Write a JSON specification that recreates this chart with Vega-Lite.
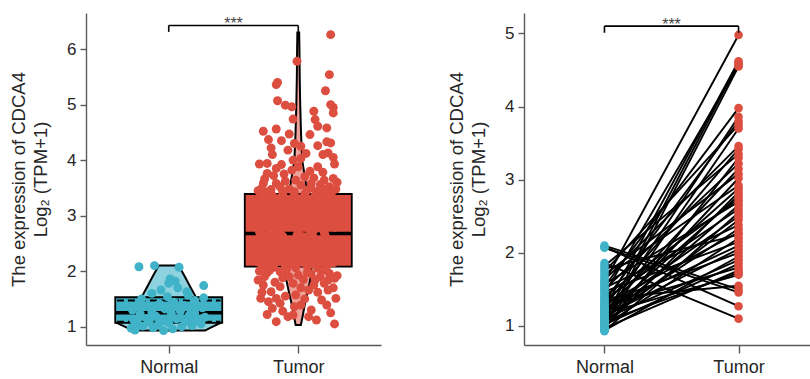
{
  "$schema": "https://vega.github.io/schema/vega-lite/v6.json",
  "padding": {"left": 9, "top": 13, "right": 0, "bottom": 0},
  "spacing": 66,
  "config": {
    "view": {"stroke": null},
    "axis": {"grid": false, "domainColor": "#5a5a5a", "domainWidth": 1.4, "tickColor": "#5a5a5a", "tickWidth": 1.4,
      "labelFont": "Liberation Sans", "titleFont": "Liberation Sans", "labelColor": "#262626", "titleColor": "#262626",
      "labelFontSize": 17, "titleFontSize": 18.5, "titleFontWeight": "normal"}
  },
  "datasets": {
    "violin": [
      {"group": "Normal", "y": 0.93, "xlo": 0.72, "xhi": 1.28},
      {"group": "Normal", "y": 1.0, "xlo": 0.66, "xhi": 1.34},
      {"group": "Normal", "y": 1.07, "xlo": 0.6, "xhi": 1.4},
      {"group": "Normal", "y": 1.1, "xlo": 0.6, "xhi": 1.4},
      {"group": "Normal", "y": 1.2, "xlo": 0.64, "xhi": 1.36},
      {"group": "Normal", "y": 1.3, "xlo": 0.69, "xhi": 1.31},
      {"group": "Normal", "y": 1.4, "xlo": 0.74, "xhi": 1.26},
      {"group": "Normal", "y": 1.53, "xlo": 0.79, "xhi": 1.21},
      {"group": "Normal", "y": 1.7, "xlo": 0.83, "xhi": 1.17},
      {"group": "Normal", "y": 1.9, "xlo": 0.875, "xhi": 1.125},
      {"group": "Normal", "y": 2.1, "xlo": 0.923, "xhi": 1.077},
      {"group": "Tumor", "y": 1.03, "xlo": 1.98, "xhi": 2.02},
      {"group": "Tumor", "y": 1.2, "xlo": 1.965, "xhi": 2.035},
      {"group": "Tumor", "y": 1.4, "xlo": 1.95, "xhi": 2.05},
      {"group": "Tumor", "y": 1.6, "xlo": 1.93, "xhi": 2.07},
      {"group": "Tumor", "y": 1.85, "xlo": 1.907, "xhi": 2.093},
      {"group": "Tumor", "y": 2.1, "xlo": 1.895, "xhi": 2.105},
      {"group": "Tumor", "y": 2.4, "xlo": 1.89, "xhi": 2.11},
      {"group": "Tumor", "y": 2.7, "xlo": 1.895, "xhi": 2.105},
      {"group": "Tumor", "y": 3.0, "xlo": 1.905, "xhi": 2.095},
      {"group": "Tumor", "y": 3.3, "xlo": 1.92, "xhi": 2.08},
      {"group": "Tumor", "y": 3.64, "xlo": 1.945, "xhi": 2.055},
      {"group": "Tumor", "y": 4.0, "xlo": 1.97, "xhi": 2.03},
      {"group": "Tumor", "y": 4.5, "xlo": 1.979, "xhi": 2.021},
      {"group": "Tumor", "y": 5.0, "xlo": 1.985, "xhi": 2.015},
      {"group": "Tumor", "y": 5.5, "xlo": 1.989, "xhi": 2.011},
      {"group": "Tumor", "y": 6.0, "xlo": 1.991, "xhi": 2.009},
      {"group": "Tumor", "y": 6.3, "xlo": 1.993, "xhi": 2.007}
    ],
    "box": [
      {"group": "Normal", "x": 1, "q1": 1.07, "q3": 1.53, "median": 1.25},
      {"group": "Tumor", "x": 2, "q1": 2.08, "q3": 3.39, "median": 2.68}
    ],
    "quart": [
      {"group": "Normal", "y": 1.09, "xlo": 0.6, "xhi": 1.4},
      {"group": "Normal", "y": 1.47, "xlo": 0.6, "xhi": 1.4}
    ],
    "pts": [
      {"group": "Normal", "x": 0.96, "y": 0.93}, {"group": "Normal", "x": 0.74, "y": 0.94}, {"group": "Normal", "x": 1.03, "y": 0.96},
      {"group": "Normal", "x": 0.71, "y": 0.97}, {"group": "Normal", "x": 0.88, "y": 0.98}, {"group": "Normal", "x": 1.10, "y": 1.00},
      {"group": "Normal", "x": 0.80, "y": 1.01}, {"group": "Normal", "x": 1.18, "y": 1.02}, {"group": "Normal", "x": 0.92, "y": 1.04},
      {"group": "Normal", "x": 1.25, "y": 1.05}, {"group": "Normal", "x": 0.76, "y": 1.06}, {"group": "Normal", "x": 1.00, "y": 1.07},
      {"group": "Normal", "x": 0.85, "y": 1.08}, {"group": "Normal", "x": 1.13, "y": 1.09}, {"group": "Normal", "x": 0.95, "y": 1.10},
      {"group": "Normal", "x": 1.22, "y": 1.11}, {"group": "Normal", "x": 0.73, "y": 1.12}, {"group": "Normal", "x": 1.06, "y": 1.14},
      {"group": "Normal", "x": 0.83, "y": 1.15}, {"group": "Normal", "x": 1.28, "y": 1.17}, {"group": "Normal", "x": 0.90, "y": 1.19},
      {"group": "Normal", "x": 1.16, "y": 1.21}, {"group": "Normal", "x": 0.78, "y": 1.23}, {"group": "Normal", "x": 1.02, "y": 1.24},
      {"group": "Normal", "x": 1.20, "y": 1.25}, {"group": "Normal", "x": 0.87, "y": 1.26}, {"group": "Normal", "x": 1.09, "y": 1.28},
      {"group": "Normal", "x": 0.72, "y": 1.30}, {"group": "Normal", "x": 0.97, "y": 1.32}, {"group": "Normal", "x": 1.26, "y": 1.34},
      {"group": "Normal", "x": 0.81, "y": 1.36}, {"group": "Normal", "x": 1.12, "y": 1.38}, {"group": "Normal", "x": 0.93, "y": 1.41},
      {"group": "Normal", "x": 1.04, "y": 1.44}, {"group": "Normal", "x": 1.20, "y": 1.47}, {"group": "Normal", "x": 0.79, "y": 1.50},
      {"group": "Normal", "x": 1.27, "y": 1.52}, {"group": "Normal", "x": 0.99, "y": 1.54}, {"group": "Normal", "x": 1.15, "y": 1.57},
      {"group": "Normal", "x": 0.87, "y": 1.60}, {"group": "Normal", "x": 1.14, "y": 1.63}, {"group": "Normal", "x": 0.94, "y": 1.66},
      {"group": "Normal", "x": 1.07, "y": 1.70}, {"group": "Normal", "x": 1.27, "y": 1.74}, {"group": "Normal", "x": 1.00, "y": 1.78},
      {"group": "Normal", "x": 1.05, "y": 1.82}, {"group": "Normal", "x": 1.01, "y": 1.86}, {"group": "Normal", "x": 1.08, "y": 2.07},
      {"group": "Normal", "x": 0.77, "y": 2.08}, {"group": "Normal", "x": 0.89, "y": 2.10},
      {"group": "Tumor", "x": 2.25, "y": 6.26}, {"group": "Tumor", "x": 1.99, "y": 5.78}, {"group": "Tumor", "x": 1.84, "y": 5.40},
      {"group": "Tumor", "x": 1.83, "y": 5.36}, {"group": "Tumor", "x": 2.24, "y": 5.54}, {"group": "Tumor", "x": 2.21, "y": 5.25},
      {"group": "Tumor", "x": 1.84, "y": 5.07}, {"group": "Tumor", "x": 1.90, "y": 4.99}, {"group": "Tumor", "x": 1.95, "y": 4.96},
      {"group": "Tumor", "x": 2.25, "y": 5.00}, {"group": "Tumor", "x": 2.27, "y": 4.95}, {"group": "Tumor", "x": 2.27, "y": 4.85},
      {"group": "Tumor", "x": 2.12, "y": 4.88}, {"group": "Tumor", "x": 2.13, "y": 4.73}, {"group": "Tumor", "x": 2.15, "y": 4.61},
      {"group": "Tumor", "x": 1.96, "y": 4.74}, {"group": "Tumor", "x": 1.73, "y": 4.52}, {"group": "Tumor", "x": 1.83, "y": 4.56},
      {"group": "Tumor", "x": 1.77, "y": 4.37}, {"group": "Tumor", "x": 1.87, "y": 4.35}, {"group": "Tumor", "x": 1.93, "y": 4.47},
      {"group": "Tumor", "x": 1.97, "y": 4.30}, {"group": "Tumor", "x": 2.22, "y": 4.58}, {"group": "Tumor", "x": 2.09, "y": 4.46},
      {"group": "Tumor", "x": 2.15, "y": 4.26}, {"group": "Tumor", "x": 2.22, "y": 4.33}, {"group": "Tumor", "x": 2.25, "y": 4.31},
      {"group": "Tumor", "x": 1.79, "y": 4.22}, {"group": "Tumor", "x": 1.80, "y": 4.10}, {"group": "Tumor", "x": 2.23, "y": 4.13},
      {"group": "Tumor", "x": 2.19, "y": 4.10}, {"group": "Tumor", "x": 2.28, "y": 3.93}, {"group": "Tumor", "x": 1.70, "y": 3.93},
      {"group": "Tumor", "x": 1.76, "y": 3.94}, {"group": "Tumor", "x": 1.76, "y": 3.76}, {"group": "Tumor", "x": 1.83, "y": 3.85},
      {"group": "Tumor", "x": 1.89, "y": 3.75}, {"group": "Tumor", "x": 1.96, "y": 4.00}, {"group": "Tumor", "x": 2.00, "y": 3.88},
      {"group": "Tumor", "x": 2.02, "y": 4.03}, {"group": "Tumor", "x": 2.09, "y": 3.80}, {"group": "Tumor", "x": 2.15, "y": 3.88},
      {"group": "Tumor", "x": 2.20, "y": 3.64}, {"group": "Tumor", "x": 2.27, "y": 3.67}, {"group": "Tumor", "x": 1.73, "y": 3.58},
      {"group": "Tumor", "x": 1.83, "y": 3.58}, {"group": "Tumor", "x": 1.98, "y": 3.64}, {"group": "Tumor", "x": 2.10, "y": 3.58},
      {"group": "Tumor", "x": 1.69, "y": 3.45}, {"group": "Tumor", "x": 1.72, "y": 3.50}, {"group": "Tumor", "x": 1.76, "y": 3.42},
      {"group": "Tumor", "x": 1.79, "y": 3.47}, {"group": "Tumor", "x": 1.81, "y": 3.72}, {"group": "Tumor", "x": 1.86, "y": 3.52},
      {"group": "Tumor", "x": 1.88, "y": 3.44}, {"group": "Tumor", "x": 1.90, "y": 3.62}, {"group": "Tumor", "x": 1.93, "y": 3.48},
      {"group": "Tumor", "x": 1.95, "y": 3.82}, {"group": "Tumor", "x": 1.97, "y": 3.43}, {"group": "Tumor", "x": 2.02, "y": 3.55},
      {"group": "Tumor", "x": 2.05, "y": 3.70}, {"group": "Tumor", "x": 2.07, "y": 3.46}, {"group": "Tumor", "x": 2.10, "y": 3.50},
      {"group": "Tumor", "x": 2.12, "y": 3.68}, {"group": "Tumor", "x": 2.15, "y": 3.44}, {"group": "Tumor", "x": 2.17, "y": 3.56},
      {"group": "Tumor", "x": 2.19, "y": 3.78}, {"group": "Tumor", "x": 2.21, "y": 3.47}, {"group": "Tumor", "x": 2.24, "y": 3.52},
      {"group": "Tumor", "x": 2.26, "y": 3.43}, {"group": "Tumor", "x": 2.29, "y": 3.48}, {"group": "Tumor", "x": 2.30, "y": 3.60},
      {"group": "Tumor", "x": 1.74, "y": 3.66}, {"group": "Tumor", "x": 1.87, "y": 3.92}, {"group": "Tumor", "x": 2.06, "y": 4.12},
      {"group": "Tumor", "x": 1.92, "y": 4.18}, {"group": "Tumor", "x": 2.27, "y": 4.05}, {"group": "Tumor", "x": 2.02, "y": 4.25},
      {"group": "Tumor", "x": 1.72, "y": 3.38}, {"group": "Tumor", "x": 1.80, "y": 3.36}, {"group": "Tumor", "x": 1.88, "y": 3.40},
      {"group": "Tumor", "x": 1.97, "y": 3.37}, {"group": "Tumor", "x": 2.05, "y": 3.39}, {"group": "Tumor", "x": 2.13, "y": 3.36},
      {"group": "Tumor", "x": 2.21, "y": 3.40},
      {"group": "Tumor", "x": 1.69, "y": 3.30}, {"group": "Tumor", "x": 1.76, "y": 3.28}, {"group": "Tumor", "x": 1.85, "y": 3.31},
      {"group": "Tumor", "x": 1.93, "y": 3.27}, {"group": "Tumor", "x": 2.01, "y": 3.30}, {"group": "Tumor", "x": 2.09, "y": 3.29},
      {"group": "Tumor", "x": 2.17, "y": 3.32}, {"group": "Tumor", "x": 2.26, "y": 3.28},
      {"group": "Tumor", "x": 1.73, "y": 3.21}, {"group": "Tumor", "x": 1.82, "y": 3.18}, {"group": "Tumor", "x": 1.90, "y": 3.22},
      {"group": "Tumor", "x": 1.99, "y": 3.19}, {"group": "Tumor", "x": 2.07, "y": 3.20}, {"group": "Tumor", "x": 2.15, "y": 3.17},
      {"group": "Tumor", "x": 2.24, "y": 3.22}, {"group": "Tumor", "x": 2.29, "y": 3.15},
      {"group": "Tumor", "x": 1.70, "y": 3.10}, {"group": "Tumor", "x": 1.78, "y": 3.08}, {"group": "Tumor", "x": 1.87, "y": 3.12},
      {"group": "Tumor", "x": 1.95, "y": 3.09}, {"group": "Tumor", "x": 2.03, "y": 3.11}, {"group": "Tumor", "x": 2.11, "y": 3.07},
      {"group": "Tumor", "x": 2.20, "y": 3.10}, {"group": "Tumor", "x": 2.28, "y": 3.05},
      {"group": "Tumor", "x": 1.74, "y": 3.00}, {"group": "Tumor", "x": 1.83, "y": 2.98}, {"group": "Tumor", "x": 1.91, "y": 3.02},
      {"group": "Tumor", "x": 2.00, "y": 2.97}, {"group": "Tumor", "x": 2.08, "y": 3.01}, {"group": "Tumor", "x": 2.16, "y": 2.99},
      {"group": "Tumor", "x": 2.25, "y": 2.96},
      {"group": "Tumor", "x": 1.69, "y": 2.90}, {"group": "Tumor", "x": 1.77, "y": 2.88}, {"group": "Tumor", "x": 1.86, "y": 2.92},
      {"group": "Tumor", "x": 1.94, "y": 2.87}, {"group": "Tumor", "x": 2.02, "y": 2.91}, {"group": "Tumor", "x": 2.10, "y": 2.89},
      {"group": "Tumor", "x": 2.19, "y": 2.92}, {"group": "Tumor", "x": 2.27, "y": 2.86},
      {"group": "Tumor", "x": 1.72, "y": 2.80}, {"group": "Tumor", "x": 1.81, "y": 2.78}, {"group": "Tumor", "x": 1.89, "y": 2.82},
      {"group": "Tumor", "x": 1.98, "y": 2.79}, {"group": "Tumor", "x": 2.06, "y": 2.81}, {"group": "Tumor", "x": 2.14, "y": 2.77},
      {"group": "Tumor", "x": 2.23, "y": 2.80}, {"group": "Tumor", "x": 2.28, "y": 2.79},
      {"group": "Tumor", "x": 1.70, "y": 2.71}, {"group": "Tumor", "x": 1.78, "y": 2.70}, {"group": "Tumor", "x": 1.86, "y": 2.73},
      {"group": "Tumor", "x": 2.00, "y": 2.69}, {"group": "Tumor", "x": 2.09, "y": 2.72}, {"group": "Tumor", "x": 2.20, "y": 2.70},
      {"group": "Tumor", "x": 1.73, "y": 2.64}, {"group": "Tumor", "x": 1.82, "y": 2.66}, {"group": "Tumor", "x": 1.88, "y": 2.63},
      {"group": "Tumor", "x": 1.99, "y": 2.65}, {"group": "Tumor", "x": 2.04, "y": 2.62}, {"group": "Tumor", "x": 2.11, "y": 2.66},
      {"group": "Tumor", "x": 2.21, "y": 2.63},
      {"group": "Tumor", "x": 1.69, "y": 2.57}, {"group": "Tumor", "x": 1.77, "y": 2.55}, {"group": "Tumor", "x": 1.85, "y": 2.58},
      {"group": "Tumor", "x": 1.93, "y": 2.54}, {"group": "Tumor", "x": 2.02, "y": 2.56}, {"group": "Tumor", "x": 2.10, "y": 2.53},
      {"group": "Tumor", "x": 2.19, "y": 2.57}, {"group": "Tumor", "x": 2.28, "y": 2.55},
      {"group": "Tumor", "x": 1.72, "y": 2.47}, {"group": "Tumor", "x": 1.80, "y": 2.45}, {"group": "Tumor", "x": 1.89, "y": 2.48},
      {"group": "Tumor", "x": 1.97, "y": 2.44}, {"group": "Tumor", "x": 2.06, "y": 2.46}, {"group": "Tumor", "x": 2.14, "y": 2.43},
      {"group": "Tumor", "x": 2.23, "y": 2.47},
      {"group": "Tumor", "x": 1.70, "y": 2.37}, {"group": "Tumor", "x": 1.78, "y": 2.35}, {"group": "Tumor", "x": 1.87, "y": 2.38},
      {"group": "Tumor", "x": 1.95, "y": 2.34}, {"group": "Tumor", "x": 2.03, "y": 2.36}, {"group": "Tumor", "x": 2.12, "y": 2.33},
      {"group": "Tumor", "x": 2.20, "y": 2.37}, {"group": "Tumor", "x": 2.29, "y": 2.35},
      {"group": "Tumor", "x": 1.74, "y": 2.27}, {"group": "Tumor", "x": 1.83, "y": 2.25}, {"group": "Tumor", "x": 1.91, "y": 2.28},
      {"group": "Tumor", "x": 2.00, "y": 2.24}, {"group": "Tumor", "x": 2.08, "y": 2.26}, {"group": "Tumor", "x": 2.16, "y": 2.23},
      {"group": "Tumor", "x": 2.25, "y": 2.27},
      {"group": "Tumor", "x": 1.69, "y": 2.17}, {"group": "Tumor", "x": 1.77, "y": 2.15}, {"group": "Tumor", "x": 1.86, "y": 2.18},
      {"group": "Tumor", "x": 1.94, "y": 2.14}, {"group": "Tumor", "x": 2.02, "y": 2.16}, {"group": "Tumor", "x": 2.11, "y": 2.13},
      {"group": "Tumor", "x": 2.19, "y": 2.17}, {"group": "Tumor", "x": 2.27, "y": 2.15},
      {"group": "Tumor", "x": 1.72, "y": 2.09}, {"group": "Tumor", "x": 1.81, "y": 2.07}, {"group": "Tumor", "x": 1.90, "y": 2.10},
      {"group": "Tumor", "x": 1.98, "y": 2.06}, {"group": "Tumor", "x": 2.07, "y": 2.08}, {"group": "Tumor", "x": 2.15, "y": 2.05},
      {"group": "Tumor", "x": 2.22, "y": 2.09},
      {"group": "Tumor", "x": 1.69, "y": 1.84}, {"group": "Tumor", "x": 1.73, "y": 1.75}, {"group": "Tumor", "x": 1.71, "y": 1.51},
      {"group": "Tumor", "x": 1.79, "y": 1.63}, {"group": "Tumor", "x": 1.83, "y": 1.51}, {"group": "Tumor", "x": 1.80, "y": 1.33},
      {"group": "Tumor", "x": 1.83, "y": 1.09}, {"group": "Tumor", "x": 1.92, "y": 1.18}, {"group": "Tumor", "x": 1.97, "y": 1.36},
      {"group": "Tumor", "x": 1.98, "y": 1.57}, {"group": "Tumor", "x": 2.02, "y": 1.39}, {"group": "Tumor", "x": 2.08, "y": 1.18},
      {"group": "Tumor", "x": 2.08, "y": 1.66}, {"group": "Tumor", "x": 2.13, "y": 1.84}, {"group": "Tumor", "x": 2.17, "y": 1.90},
      {"group": "Tumor", "x": 2.23, "y": 1.84}, {"group": "Tumor", "x": 2.28, "y": 1.87}, {"group": "Tumor", "x": 2.23, "y": 1.66},
      {"group": "Tumor", "x": 2.29, "y": 1.51}, {"group": "Tumor", "x": 2.22, "y": 1.39}, {"group": "Tumor", "x": 2.28, "y": 1.05},
      {"group": "Tumor", "x": 1.86, "y": 1.99}, {"group": "Tumor", "x": 1.93, "y": 1.90}, {"group": "Tumor", "x": 2.00, "y": 1.93},
      {"group": "Tumor", "x": 2.07, "y": 1.98}, {"group": "Tumor", "x": 1.76, "y": 1.97},
      {"group": "Tumor", "x": 1.70, "y": 2.00}, {"group": "Tumor", "x": 1.74, "y": 1.90}, {"group": "Tumor", "x": 1.78, "y": 2.02},
      {"group": "Tumor", "x": 1.82, "y": 1.80}, {"group": "Tumor", "x": 1.86, "y": 1.72}, {"group": "Tumor", "x": 1.88, "y": 1.88},
      {"group": "Tumor", "x": 1.91, "y": 2.03}, {"group": "Tumor", "x": 1.96, "y": 1.78}, {"group": "Tumor", "x": 2.02, "y": 1.70},
      {"group": "Tumor", "x": 2.04, "y": 1.85}, {"group": "Tumor", "x": 2.10, "y": 1.95}, {"group": "Tumor", "x": 2.12, "y": 1.75},
      {"group": "Tumor", "x": 2.15, "y": 1.62}, {"group": "Tumor", "x": 2.18, "y": 2.00}, {"group": "Tumor", "x": 2.20, "y": 1.78},
      {"group": "Tumor", "x": 2.24, "y": 1.96}, {"group": "Tumor", "x": 2.27, "y": 1.70}, {"group": "Tumor", "x": 2.30, "y": 1.92},
      {"group": "Tumor", "x": 1.72, "y": 1.62}, {"group": "Tumor", "x": 1.77, "y": 1.45}, {"group": "Tumor", "x": 1.86, "y": 1.42},
      {"group": "Tumor", "x": 1.90, "y": 1.55}, {"group": "Tumor", "x": 2.05, "y": 1.50}, {"group": "Tumor", "x": 2.10, "y": 1.30},
      {"group": "Tumor", "x": 2.18, "y": 1.48}, {"group": "Tumor", "x": 2.25, "y": 1.25}, {"group": "Tumor", "x": 1.76, "y": 1.22},
      {"group": "Tumor", "x": 1.96, "y": 1.21}, {"group": "Tumor", "x": 1.88, "y": 1.28}, {"group": "Tumor", "x": 2.14, "y": 1.12}
    ],
    "bracket1": [
      {"x": 1, "x2": 2, "y": 6.425, "y2": 6.425},
      {"x": 1, "x2": 1, "y": 6.425, "y2": 6.31},
      {"x": 2, "x2": 2, "y": 6.425, "y2": 6.31}
    ],
    "sig1": [{"x": 1.5, "y": 6.425, "label": "***"}],
    "bracket2": [
      {"x": 1, "x2": 2, "y": 5.10, "y2": 5.10},
      {"x": 1, "x2": 1, "y": 5.10, "y2": 5.01},
      {"x": 2, "x2": 2, "y": 5.10, "y2": 5.01}
    ],
    "sig2": [{"x": 1.5, "y": 5.10, "label": "***"}],
    "pairs": [
      {"id": 1, "group": "Normal", "x": 1, "y": 0.93}, {"id": 1, "group": "Tumor", "x": 2, "y": 2.55},
      {"id": 2, "group": "Normal", "x": 1, "y": 0.94}, {"id": 2, "group": "Tumor", "x": 2, "y": 1.95},
      {"id": 3, "group": "Normal", "x": 1, "y": 0.96}, {"id": 3, "group": "Tumor", "x": 2, "y": 3.30},
      {"id": 4, "group": "Normal", "x": 1, "y": 0.97}, {"id": 4, "group": "Tumor", "x": 2, "y": 1.76},
      {"id": 5, "group": "Normal", "x": 1, "y": 0.98}, {"id": 5, "group": "Tumor", "x": 2, "y": 2.83},
      {"id": 6, "group": "Normal", "x": 1, "y": 1.00}, {"id": 6, "group": "Tumor", "x": 2, "y": 4.55},
      {"id": 7, "group": "Normal", "x": 1, "y": 1.01}, {"id": 7, "group": "Tumor", "x": 2, "y": 2.20},
      {"id": 8, "group": "Normal", "x": 1, "y": 1.02}, {"id": 8, "group": "Tumor", "x": 2, "y": 1.85},
      {"id": 9, "group": "Normal", "x": 1, "y": 1.04}, {"id": 9, "group": "Tumor", "x": 2, "y": 3.70},
      {"id": 10, "group": "Normal", "x": 1, "y": 1.05}, {"id": 10, "group": "Tumor", "x": 2, "y": 2.45},
      {"id": 11, "group": "Normal", "x": 1, "y": 1.06}, {"id": 11, "group": "Tumor", "x": 2, "y": 1.73},
      {"id": 12, "group": "Normal", "x": 1, "y": 1.07}, {"id": 12, "group": "Tumor", "x": 2, "y": 3.02},
      {"id": 13, "group": "Normal", "x": 1, "y": 1.08}, {"id": 13, "group": "Tumor", "x": 2, "y": 2.65},
      {"id": 14, "group": "Normal", "x": 1, "y": 1.09}, {"id": 14, "group": "Tumor", "x": 2, "y": 4.60},
      {"id": 15, "group": "Normal", "x": 1, "y": 1.10}, {"id": 15, "group": "Tumor", "x": 2, "y": 1.90},
      {"id": 16, "group": "Normal", "x": 1, "y": 1.11}, {"id": 16, "group": "Tumor", "x": 2, "y": 2.33},
      {"id": 17, "group": "Normal", "x": 1, "y": 1.12}, {"id": 17, "group": "Tumor", "x": 2, "y": 3.86},
      {"id": 18, "group": "Normal", "x": 1, "y": 1.14}, {"id": 18, "group": "Tumor", "x": 2, "y": 2.05},
      {"id": 19, "group": "Normal", "x": 1, "y": 1.15}, {"id": 19, "group": "Tumor", "x": 2, "y": 2.78},
      {"id": 20, "group": "Normal", "x": 1, "y": 1.17}, {"id": 20, "group": "Tumor", "x": 2, "y": 1.70},
      {"id": 21, "group": "Normal", "x": 1, "y": 1.19}, {"id": 21, "group": "Tumor", "x": 2, "y": 3.15},
      {"id": 22, "group": "Normal", "x": 1, "y": 1.21}, {"id": 22, "group": "Tumor", "x": 2, "y": 2.50},
      {"id": 23, "group": "Normal", "x": 1, "y": 1.23}, {"id": 23, "group": "Tumor", "x": 2, "y": 4.62},
      {"id": 24, "group": "Normal", "x": 1, "y": 1.24}, {"id": 24, "group": "Tumor", "x": 2, "y": 2.10},
      {"id": 25, "group": "Normal", "x": 1, "y": 1.25}, {"id": 25, "group": "Tumor", "x": 2, "y": 2.88},
      {"id": 26, "group": "Normal", "x": 1, "y": 1.26}, {"id": 26, "group": "Tumor", "x": 2, "y": 1.80},
      {"id": 27, "group": "Normal", "x": 1, "y": 1.28}, {"id": 27, "group": "Tumor", "x": 2, "y": 3.42},
      {"id": 28, "group": "Normal", "x": 1, "y": 1.30}, {"id": 28, "group": "Tumor", "x": 2, "y": 2.28},
      {"id": 29, "group": "Normal", "x": 1, "y": 1.32}, {"id": 29, "group": "Tumor", "x": 2, "y": 2.00},
      {"id": 30, "group": "Normal", "x": 1, "y": 1.34}, {"id": 30, "group": "Tumor", "x": 2, "y": 3.80},
      {"id": 31, "group": "Normal", "x": 1, "y": 1.36}, {"id": 31, "group": "Tumor", "x": 2, "y": 2.60},
      {"id": 32, "group": "Normal", "x": 1, "y": 1.38}, {"id": 32, "group": "Tumor", "x": 2, "y": 1.55},
      {"id": 33, "group": "Normal", "x": 1, "y": 1.41}, {"id": 33, "group": "Tumor", "x": 2, "y": 2.74},
      {"id": 34, "group": "Normal", "x": 1, "y": 1.44}, {"id": 34, "group": "Tumor", "x": 2, "y": 4.57},
      {"id": 35, "group": "Normal", "x": 1, "y": 1.47}, {"id": 35, "group": "Tumor", "x": 2, "y": 2.15},
      {"id": 36, "group": "Normal", "x": 1, "y": 1.50}, {"id": 36, "group": "Tumor", "x": 2, "y": 3.22},
      {"id": 37, "group": "Normal", "x": 1, "y": 1.52}, {"id": 37, "group": "Tumor", "x": 2, "y": 2.38},
      {"id": 38, "group": "Normal", "x": 1, "y": 1.54}, {"id": 38, "group": "Tumor", "x": 2, "y": 3.98},
      {"id": 39, "group": "Normal", "x": 1, "y": 1.57}, {"id": 39, "group": "Tumor", "x": 2, "y": 2.70},
      {"id": 40, "group": "Normal", "x": 1, "y": 1.60}, {"id": 40, "group": "Tumor", "x": 2, "y": 4.98},
      {"id": 41, "group": "Normal", "x": 1, "y": 1.63}, {"id": 41, "group": "Tumor", "x": 2, "y": 3.46},
      {"id": 42, "group": "Normal", "x": 1, "y": 1.66}, {"id": 42, "group": "Tumor", "x": 2, "y": 2.92},
      {"id": 43, "group": "Normal", "x": 1, "y": 1.70}, {"id": 43, "group": "Tumor", "x": 2, "y": 3.08},
      {"id": 44, "group": "Normal", "x": 1, "y": 1.74}, {"id": 44, "group": "Tumor", "x": 2, "y": 3.75},
      {"id": 45, "group": "Normal", "x": 1, "y": 1.78}, {"id": 45, "group": "Tumor", "x": 2, "y": 2.25},
      {"id": 46, "group": "Normal", "x": 1, "y": 1.82}, {"id": 46, "group": "Tumor", "x": 2, "y": 3.35},
      {"id": 47, "group": "Normal", "x": 1, "y": 1.86}, {"id": 47, "group": "Tumor", "x": 2, "y": 1.10},
      {"id": 48, "group": "Normal", "x": 1, "y": 2.07}, {"id": 48, "group": "Tumor", "x": 2, "y": 1.46},
      {"id": 49, "group": "Normal", "x": 1, "y": 2.08}, {"id": 49, "group": "Tumor", "x": 2, "y": 1.27},
      {"id": 50, "group": "Normal", "x": 1, "y": 2.10}, {"id": 50, "group": "Tumor", "x": 2, "y": 1.50}
    ]
  },
  "hconcat": [
    {
      "width": 295,
      "height": 332,
      "layer": [
        {
          "data": {"name": "violin"},
          "mark": {"type": "area", "orient": "horizontal", "stroke": "black", "strokeWidth": 2},
          "encoding": {
            "y": {"field": "y", "type": "quantitative", "scale": {"domain": [0.67, 6.65], "nice": false, "zero": false},
              "axis": {"values": [1, 2, 3, 4, 5, 6], "format": "d", "tickSize": 6, "labelPadding": 4, "titlePadding": 16, "titleLineHeight": 22,
                "title": ["The expression of CDCA4", "Log₂ (TPM+1)"]}},
            "x": {"field": "xlo", "type": "quantitative", "scale": {"domain": [0.4, 2.6], "nice": false, "zero": false},
              "axis": {"values": [1, 2], "labelExpr": "datum.value == 1 ? 'Normal' : 'Tumor'", "title": null, "tickSize": 8, "labelPadding": 5, "labelFontSize": 18}},
            "x2": {"field": "xhi"},
            "fill": {"field": "group", "type": "nominal", "scale": {"domain": ["Normal", "Tumor"], "range": ["#8fd2df", "#eea39c"]}, "legend": null}
          }
        },
        {
          "data": {"name": "box"},
          "mark": {"type": "bar", "size": 107, "stroke": "black", "strokeWidth": 1.8},
          "encoding": {
            "x": {"field": "x", "type": "quantitative"},
            "y": {"field": "q1", "type": "quantitative"},
            "y2": {"field": "q3"},
            "fill": {"field": "group", "type": "nominal", "scale": {"domain": ["Normal", "Tumor"], "range": ["#41b3c8", "#dc4f40"]}, "legend": null}
          }
        },
        {
          "data": {"name": "quart"},
          "mark": {"type": "rule", "color": "black", "strokeWidth": 2, "strokeDash": [7, 4]},
          "encoding": {
            "x": {"field": "xlo", "type": "quantitative"},
            "x2": {"field": "xhi"},
            "y": {"field": "y", "type": "quantitative"}
          }
        },
        {
          "data": {"name": "box"},
          "mark": {"type": "tick", "orient": "horizontal", "size": 107, "thickness": 3.5, "color": "black", "opacity": 1},
          "encoding": {
            "x": {"field": "x", "type": "quantitative"},
            "y": {"field": "median", "type": "quantitative"}
          }
        },
        {
          "data": {"name": "pts"},
          "mark": {"type": "circle", "size": 80, "opacity": 1},
          "encoding": {
            "x": {"field": "x", "type": "quantitative"},
            "y": {"field": "y", "type": "quantitative"},
            "fill": {"field": "group", "type": "nominal", "scale": {"domain": ["Normal", "Tumor"], "range": ["#41b3c8", "#dc4f40"]}, "legend": null}
          }
        },
        {
          "data": {"name": "bracket1"},
          "mark": {"type": "rule", "color": "black", "strokeWidth": 1.6},
          "encoding": {
            "x": {"field": "x", "type": "quantitative"},
            "x2": {"field": "x2"},
            "y": {"field": "y", "type": "quantitative"},
            "y2": {"field": "y2"}
          }
        },
        {
          "data": {"name": "sig1"},
          "mark": {"type": "text", "fontSize": 16, "font": "Liberation Sans", "color": "#444444", "baseline": "alphabetic", "dy": 4},
          "encoding": {
            "x": {"field": "x", "type": "quantitative"},
            "y": {"field": "y", "type": "quantitative"},
            "text": {"field": "label"}
          }
        }
      ],
      "resolve": {"scale": {"fill": "independent"}}
    },
    {
      "width": 295,
      "height": 332,
      "layer": [
        {
          "data": {"name": "pairs"},
          "mark": {"type": "line", "color": "black", "strokeWidth": 1.9},
          "encoding": {
            "x": {"field": "x", "type": "quantitative", "scale": {"domain": [0.4, 2.6], "nice": false, "zero": false},
              "axis": {"values": [1, 2], "labelExpr": "datum.value == 1 ? 'Normal' : 'Tumor'", "title": null, "tickSize": 8, "labelPadding": 5, "labelFontSize": 18}},
            "y": {"field": "y", "type": "quantitative", "scale": {"domain": [0.74, 5.28], "nice": false, "zero": false},
              "axis": {"values": [1, 2, 3, 4, 5], "format": "d", "tickSize": 6, "labelPadding": 4, "titlePadding": 16, "titleLineHeight": 22,
                "title": ["The expression of CDCA4", "Log₂ (TPM+1)"]}},
            "detail": {"field": "id", "type": "nominal"}
          }
        },
        {
          "data": {"name": "pairs"},
          "mark": {"type": "circle", "size": 75, "opacity": 1},
          "encoding": {
            "x": {"field": "x", "type": "quantitative"},
            "y": {"field": "y", "type": "quantitative"},
            "fill": {"field": "group", "type": "nominal", "scale": {"domain": ["Normal", "Tumor"], "range": ["#41b3c8", "#dc4f40"]}, "legend": null}
          }
        },
        {
          "data": {"name": "bracket2"},
          "mark": {"type": "rule", "color": "black", "strokeWidth": 1.6},
          "encoding": {
            "x": {"field": "x", "type": "quantitative"},
            "x2": {"field": "x2"},
            "y": {"field": "y", "type": "quantitative"},
            "y2": {"field": "y2"}
          }
        },
        {
          "data": {"name": "sig2"},
          "mark": {"type": "text", "fontSize": 16, "font": "Liberation Sans", "color": "#444444", "baseline": "alphabetic", "dy": 4},
          "encoding": {
            "x": {"field": "x", "type": "quantitative"},
            "y": {"field": "y", "type": "quantitative"},
            "text": {"field": "label"}
          }
        }
      ]
    }
  ]
}
